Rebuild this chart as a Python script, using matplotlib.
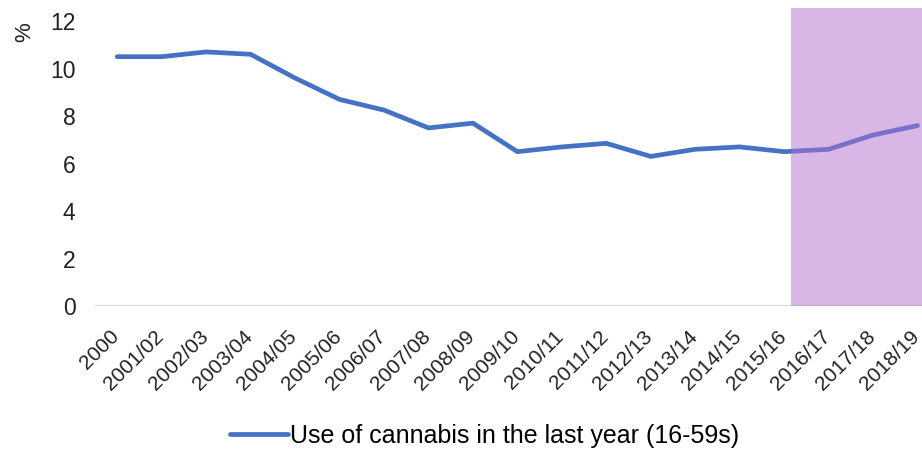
import matplotlib.pyplot as plt
from matplotlib.transforms import ScaledTranslation

years = ['2000', '2001/02', '2002/03', '2003/04', '2004/05', '2005/06', '2006/07',
         '2007/08', '2008/09', '2009/10', '2010/11', '2011/12', '2012/13', '2013/14',
         '2014/15', '2015/16', '2016/17', '2017/18', '2018/19']
cannabis = [10.5, 10.5, 10.7, 10.6, 9.6, 8.7, 8.25, 7.5, 7.7, 6.5, 6.7, 6.85,
            6.3, 6.6, 6.7, 6.5, 6.6, 7.2, 7.6]
yticks = [0, 2, 4, 6, 8, 10, 12]

plt.rcParams['font.family'] = ['Liberation Sans', 'DejaVu Sans']

fig = plt.figure(figsize=(9.22, 4.53), dpi=100)
ax = fig.add_axes([95 / 922, 1 - 306 / 453, 1 - 95 / 922, 298 / 453])

x = list(range(len(years)))
ax.plot(x, cannabis, color='#4472C4', lw=3.4, solid_capstyle='round',
        label='Use of cannabis in the last year (16-59s)', zorder=2)
ax.axvspan(15.15, 18.5, color='#b36fcf', alpha=0.5, lw=0, zorder=3)
ax.axhline(0, color='#d9d9d9', lw=1.5, zorder=1)

ax.set_xlim(-0.5, 18.1)
ax.set_ylim(0, 12.55)
ax.set_yticks(yticks)
ax.set_yticklabels([str(v) for v in yticks], fontsize=16.5, color='#222222')
ax.set_xticks(x)
ax.set_xticklabels([])
ax.tick_params(axis='both', length=0)
ax.tick_params(axis='y', pad=14)
for s in ax.spines.values():
    s.set_visible(False)

# rotated category labels, placed by hand so they can be nudged left
lab_tr = ax.get_xaxis_transform() + ScaledTranslation(-5.5 / 72, -15 / 72, fig.dpi_scale_trans)
for i, yr in zip(x, years):
    ax.text(i, 0, yr, transform=lab_tr, rotation=45, ha='right', va='top',
            rotation_mode='anchor', fontsize=15, color='#222222', clip_on=False)

fig.text(25 / 922, 1 - 32 / 453, '%', rotation=90, fontsize=16, ha='center', va='center',
         color='#222222')

fig.legend(loc='center', bbox_to_anchor=(485 / 922, 1 - 436 / 453), frameon=False,
           prop={'size': 18}, handlelength=2.3, handletextpad=0.1,
           borderaxespad=0)

fig.savefig('out.png', dpi=100)
